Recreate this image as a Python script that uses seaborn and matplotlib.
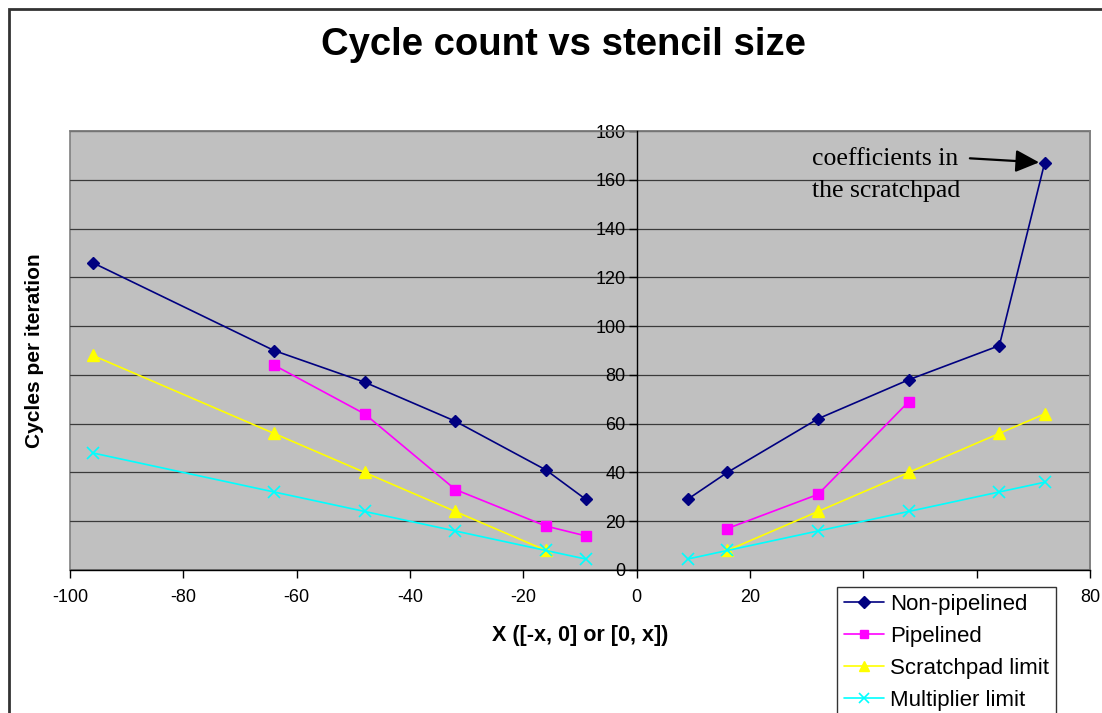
import matplotlib
matplotlib.use("Agg")
import matplotlib.pyplot as plt
from matplotlib.patches import Rectangle
from matplotlib.lines import Line2D
import seaborn as sns
import pandas as pd

# ---- data ----
series_names = ["Non-pipelined", "Pipelined", "Scratchpad limit", "Multiplier limit"]

nonpipe_left_x = [-96, -64, -48, -32, -16, -9]
nonpipe_left_y = [126, 90, 77, 61, 41, 29]
nonpipe_right_x = [9, 16, 32, 48, 64, 72]
nonpipe_right_y = [29, 40, 62, 78, 92, 167]

pipe_left_x = [-64, -48, -32, -16, -9]
pipe_left_y = [84, 64, 33, 18, 14]
pipe_right_x = [16, 32, 48]
pipe_right_y = [17, 31, 69]

scratch_left_x = [-96, -64, -48, -32, -16]
scratch_left_y = [88, 56, 40, 24, 8]
scratch_right_x = [16, 32, 48, 64, 72]
scratch_right_y = [8, 24, 40, 56, 64]

mult_left_x = [-96, -64, -48, -32, -16, -9]
mult_left_y = [48, 32, 24, 16, 8, 4.5]
mult_right_x = [9, 16, 32, 48, 64, 72]
mult_right_y = [4.5, 8, 16, 24, 32, 36]

x_ticks = [-100, -80, -60, -40, -20, 0, 20, 40, 60, 80]
# 40 and 60 labels are hidden behind the legend in the reference
x_tick_labels = ["-100", "-80", "-60", "-40", "-20", "0", "20", "", "", "80"]
y_ticks = [0, 20, 40, 60, 80, 100, 120, 140, 160, 180]

title_text = "Cycle count vs stencil size"
xlabel_text = "X ([-x, 0] or [0, x])"
ylabel_text = "Cycles per iteration"
annot_text = "coefficients in\nthe scratchpad"
annot_point = (72, 167)

# ---- build long table ----
rows = []
segments = [
    ("Non-pipelined", "L", nonpipe_left_x, nonpipe_left_y),
    ("Non-pipelined", "R", nonpipe_right_x, nonpipe_right_y),
    ("Pipelined", "L", pipe_left_x, pipe_left_y),
    ("Pipelined", "R", pipe_right_x, pipe_right_y),
    ("Scratchpad limit", "L", scratch_left_x, scratch_left_y),
    ("Scratchpad limit", "R", scratch_right_x, scratch_right_y),
    ("Multiplier limit", "L", mult_left_x, mult_left_y),
    ("Multiplier limit", "R", mult_right_x, mult_right_y),
]
for name, side, xs, ys in segments:
    for xv, yv in zip(xs, ys):
        rows.append({"series": name, "side": side, "x": xv, "y": yv})
df = pd.DataFrame(rows)

styles = {
    "Non-pipelined": dict(color="#000080", marker="D", ms=6.5, mew=1.0),
    "Pipelined": dict(color="#FF00FF", marker="s", ms=7, mew=1.0),
    "Scratchpad limit": dict(color="#FFFF00", marker="^", ms=8, mew=1.0),
    "Multiplier limit": dict(color="#00FFFF", marker="x", ms=8, mew=1.2),
}

sns.set_style("white")
plt.rcParams["font.family"] = ["Liberation Sans", "DejaVu Sans"]
plt.rcParams["text.color"] = "black"
plt.rcParams["axes.labelcolor"] = "black"
plt.rcParams["xtick.color"] = "black"
plt.rcParams["ytick.color"] = "black"

fig = plt.figure(figsize=(11.02, 7.13), dpi=100)
fig.patch.set_facecolor("white")

W, H = 1102.0, 713.0
ax = fig.add_axes([70 / W, 1 - 570 / H, 1020 / W, 439 / H])
ax.set_facecolor("#C0C0C0")

for (name, side), g in df.groupby(["series", "side"], sort=False):
    st = styles[name]
    sns.lineplot(data=g, x="x", y="y", ax=ax, sort=False, estimator=None,
                 color=st["color"], marker=st["marker"], markersize=st["ms"],
                 markeredgecolor=st["color"], markeredgewidth=st["mew"],
                 linewidth=1.2, legend=False, zorder=3)

ax.set_xlim(-100, 80)
ax.set_ylim(0, 180)
ax.set_xticks(x_ticks)
ax.set_yticks(y_ticks)
ax.set_xticklabels(x_tick_labels)
ax.set_yticklabels([str(t) for t in y_ticks])

ax.yaxis.grid(True, color="#3a3a3a", linewidth=0.9, zorder=1)
ax.xaxis.grid(False)
ax.set_axisbelow(True)

for s in ["top", "right"]:
    ax.spines[s].set_color("#808080")
    ax.spines[s].set_linewidth(1.2)
ax.spines["bottom"].set_color("black")
ax.spines["bottom"].set_linewidth(1.0)
ax.spines["left"].set_position(("data", 0))
ax.spines["left"].set_color("black")
ax.spines["left"].set_linewidth(1.0)
ax.spines["left"].set_zorder(4)

# plot-area border on left edge
ax.add_patch(Rectangle((0, 0), 1, 1, transform=ax.transAxes, fill=False,
                       edgecolor="#808080", linewidth=1.2, zorder=0.5, clip_on=False))

ax.tick_params(axis="x", direction="out", length=6, width=1, color="black",
               labelsize=13, pad=8, bottom=True, labelcolor="black")
ax.tick_params(axis="y", direction="out", length=6, width=1, color="black",
               labelsize=13, pad=2, left=True, labelcolor="black")

ax.set_xlabel(xlabel_text, fontsize=15.5, fontweight="bold", labelpad=13, color="black")
ax.set_ylabel(ylabel_text, fontsize=15, fontweight="bold", color="black")
ax.yaxis.set_label_coords((44 - 70) / 1020, 0.5)

fig.text(563 / W, 1 - 45 / H, title_text, ha="center", va="center",
         fontsize=27.5, fontweight="bold", color="black")

# annotation
ax.text(31.0, 173.0, annot_text, ha="left", va="top", color="black",
        fontsize=18.5, family=["Liberation Serif", "DejaVu Serif"], linespacing=1.6,
        zorder=5)
ax.annotate("", xy=annot_point, xytext=(58.8, 168.8),
            arrowprops=dict(arrowstyle="-|>,head_length=0.8,head_width=0.38",
                            color="black", lw=1.6, mutation_scale=18,
                            shrinkA=0, shrinkB=4), zorder=5)

# legend
handles = []
for name in series_names:
    st = styles[name]
    handles.append(Line2D([0], [0], color=st["color"], marker=st["marker"],
                          markersize=st["ms"] * 0.9, markeredgecolor=st["color"],
                          markeredgewidth=st["mew"], linewidth=1.2))
leg = fig.legend(handles, series_names, loc="upper left",
                 bbox_to_anchor=(837 / W, 1 - 587 / H), fontsize=16,
                 frameon=True, fancybox=False, edgecolor="black",
                 handlelength=1.8, handletextpad=0.3, labelspacing=0.5,
                 borderpad=0.3, borderaxespad=0)
leg.get_frame().set_linewidth(1.0)
for t in leg.get_texts():
    t.set_color("black")

# chart-area border (extends beyond right and bottom edges)
fig.add_artist(Rectangle((9 / W, -0.2), 1.2, (1 - 9 / H) + 0.2,
                         transform=fig.transFigure, fill=False,
                         edgecolor="#333333", linewidth=2.0, clip_on=False))

fig.savefig("out.png", dpi=100)
